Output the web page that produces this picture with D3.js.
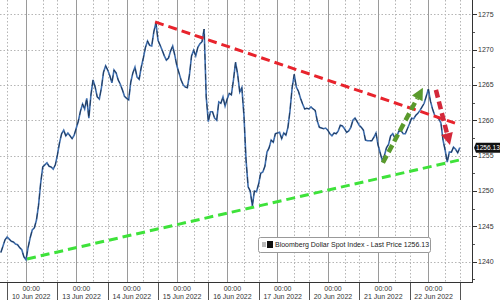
<!DOCTYPE html>
<html>
<head>
<meta charset="utf-8">
<title>dollar spot</title>
<style>
  body { margin: 0; background: #fff; }
  text { font-family: "Liberation Sans", Arial, sans-serif; }
</style>
</head>
<body>
<script src="https://cdn.jsdelivr.net/npm/d3@7"></script>
<script>
// hourly prices, first value at 9 Jun 12:00 (hours counted on trading days only)
var firstHour = 12;
var prices = [
  1241.3, 1242.2, 1243.1, 1243.5, 1243.2, 1242.9, 1242.8, 1242.5, 1242.4, 1242.0, 1241.7, 1240.7,
  1240.3, 1242.0, 1243.4, 1244.5, 1244.8, 1245.9, 1248.0, 1251.1, 1253.4, 1253.7, 1254.0, 1253.5,
  1253.4, 1253.1, 1253.7, 1255.1, 1256.8, 1258.1, 1258.6, 1257.8, 1258.2, 1257.8, 1257.4, 1257.9,
  1258.9, 1259.9, 1261.3, 1262.3, 1261.6, 1263.1, 1260.3, 1263.6, 1265.7, 1264.7, 1263.3, 1263.0,
  1264.6, 1266.8, 1267.7, 1267.1, 1266.3, 1265.3, 1267.1, 1266.7, 1265.7, 1265.1, 1264.3, 1263.4,
  1263.1, 1262.9, 1265.4, 1266.7, 1267.5, 1266.1, 1265.8, 1267.5, 1268.8, 1270.3, 1271.2, 1270.6,
  1270.5, 1272.5, 1273.8, 1271.3, 1270.6, 1269.9, 1269.1, 1268.5, 1268.8, 1269.8, 1270.5, 1269.2,
  1267.7, 1266.7, 1265.7, 1265.0, 1264.7, 1264.6, 1266.4, 1269.1, 1269.9, 1269.1, 1270.3, 1270.8,
  1271.1, 1272.9, 1263.3, 1259.8, 1261.2, 1261.2, 1260.3, 1260.0, 1262.6, 1262.4, 1263.3, 1262.0,
  1263.0, 1263.8, 1263.6, 1265.7, 1268.2, 1266.5, 1264.0, 1264.6, 1260.7, 1254.4, 1250.6, 1250.0,
  1247.9, 1250.0, 1249.9, 1251.0, 1252.5, 1252.7, 1253.5, 1255.5, 1256.1, 1257.2, 1256.9, 1258.1,
  1258.2, 1258.3, 1257.4, 1258.2, 1257.9, 1259.0, 1261.4, 1264.6, 1266.5, 1264.7, 1264.1, 1263.1,
  1262.3, 1261.6, 1261.7, 1261.6, 1261.9, 1261.6, 1261.4, 1259.9, 1259.0, 1258.9, 1258.8, 1258.9,
  1258.6, 1258.1, 1257.8, 1258.2, 1258.1, 1258.5, 1259.3, 1259.2, 1258.8, 1258.3, 1258.5, 1259.0,
  1260.0, 1260.3, 1259.8, 1259.3, 1259.0, 1258.6, 1257.2, 1257.1, 1257.1, 1257.1, 1257.6, 1258.2,
  1256.5, 1255.4, 1254.3, 1255.0, 1256.1, 1256.6, 1257.8, 1258.1, 1257.5, 1257.8, 1258.5, 1258.5,
  1258.1, 1258.1, 1258.8, 1259.5, 1260.3, 1260.2, 1260.7, 1261.0, 1261.4, 1261.9, 1262.4, 1263.4,
  1264.4, 1262.7, 1261.6, 1260.7, 1260.5, 1260.2, 1259.6, 1257.2, 1255.8, 1254.1, 1255.5, 1255.5,
  1256.2, 1255.9, 1255.4, 1256.13
];
var lastPrice = 1256.13;
var seriesName = "Bloomberg Dollar Spot Index - Last Price";

// day starts (trading hours) and their labels
var dayHours = [24, 48, 72, 96, 120, 144, 168, 192, 216];
var dayLabels = ["10 Jun 2022", "13 Jun 2022", "14 Jun 2022", "15 Jun 2022", "16 Jun 2022",
                 "17 Jun 2022", "20 Jun 2022", "21 Jun 2022", "22 Jun 2022"];
var minorHours = [8, 15];
var yTicks = [1240, 1245, 1250, 1255, 1260, 1265, 1270, 1275];
var yMinorTicks = [1237.5, 1242.5, 1247.5, 1252.5, 1257.5, 1262.5, 1267.5, 1272.5];

// drawn annotations [hour, price]
var redTrend = [[85.6, 1273.9], [228.7, 1259.6]];
var greenTrend = [[24.5, 1240.4], [232.5, 1254.5]];
var greenArrow = [[194.3, 1254.0], [213.4, 1264.6]];
var redArrow = [[219.6, 1264.3], [226.3, 1256.5]];

var width = 500, height = 300;
var plotRight = 473, plotBottom = 283;

var svg = d3.select("body").append("svg")
    .attr("width", width).attr("height", height);

var x = d3.scaleLinear().domain([11.6, 237.3]).range([0, plotRight]);
var y = d3.scaleLinear().domain([1237, 1277]).range([plotBottom, 0]);

// grid
var grid = svg.append("g");
grid.selectAll(".hgrid").data(yTicks).enter().append("line")
    .attr("x1", 0).attr("x2", plotRight)
    .attr("y1", function (d) { return Math.round(y(d)) + 0.5; })
    .attr("y2", function (d) { return Math.round(y(d)) + 0.5; })
    .attr("stroke", "#b5b5b5").attr("stroke-dasharray", "1.5,2");

var minorLines = [];
[0].concat(dayHours).forEach(function (h) {
    minorHours.forEach(function (m) { minorLines.push(h + m); });
});
grid.selectAll(".vminor").data(minorLines.filter(function (h) { return x(h) > 0 && x(h) < plotRight; }))
    .enter().append("line")
    .attr("x1", function (d) { return Math.round(x(d)) + 0.5; })
    .attr("x2", function (d) { return Math.round(x(d)) + 0.5; })
    .attr("y1", 0).attr("y2", plotBottom)
    .attr("stroke", "#b5b5b5").attr("stroke-dasharray", "1.5,2");

grid.selectAll(".vday").data(dayHours).enter().append("line")
    .attr("x1", function (d) { return Math.round(x(d)) + 0.5; })
    .attr("x2", function (d) { return Math.round(x(d)) + 0.5; })
    .attr("y1", 0).attr("y2", plotBottom)
    .attr("stroke", "#9a9a9a").attr("stroke-width", 1);

// trend lines
var tl = d3.line().x(function (d) { return x(d[0]); }).y(function (d) { return y(d[1]); });
svg.append("path").datum(greenTrend).attr("d", tl)
    .attr("fill", "none").attr("stroke", "#3ee23a").attr("stroke-width", 3)
    .attr("stroke-dasharray", "9,5");

// price line
var line = d3.line()
    .x(function (d, i) { return x(firstHour + i); })
    .y(function (d) { return y(d); });
svg.append("path").datum(prices).attr("d", line)
    .attr("fill", "none").attr("stroke", "#3d6dae").attr("stroke-width", 1.6);
svg.append("path").datum(prices).attr("d", line)
    .attr("fill", "none").attr("stroke", "#101820").attr("stroke-width", 0.6)
    .attr("stroke-dasharray", "6,4");

svg.append("path").datum(redTrend).attr("d", tl)
    .attr("fill", "none").attr("stroke", "#e8232c").attr("stroke-width", 3)
    .attr("stroke-dasharray", "9,5");

function arrow(pts, color) {
    var x0 = x(pts[0][0]), y0 = y(pts[0][1]), x1 = x(pts[1][0]), y1 = y(pts[1][1]);
    var dx = x1 - x0, dy = y1 - y0, len = Math.sqrt(dx * dx + dy * dy);
    var ux = dx / len, uy = dy / len, headL = 12, headW = 6;
    var bx = x1 - ux * headL, by = y1 - uy * headL;
    svg.append("line").attr("x1", x0).attr("y1", y0).attr("x2", bx).attr("y2", by)
        .attr("stroke", color).attr("stroke-width", 4.5).attr("stroke-dasharray", "8,4");
    svg.append("path")
        .attr("d", "M" + x1 + "," + y1 + "L" + (bx - uy * headW) + "," + (by + ux * headW) +
             "L" + (bx + uy * headW) + "," + (by - ux * headW) + "Z")
        .attr("fill", color);
}
arrow(greenArrow, "#5a9a2c");
arrow(redArrow, "#d3283a");

// right axis
var yAxis = svg.append("g");
yAxis.append("line").attr("x1", plotRight - 0.5).attr("x2", plotRight - 0.5)
    .attr("y1", 0).attr("y2", plotBottom).attr("stroke", "#333");
yAxis.selectAll(".tk").data(yTicks).enter().append("line")
    .attr("x1", plotRight).attr("x2", plotRight + 4)
    .attr("y1", function (d) { return Math.round(y(d)) + 0.5; })
    .attr("y2", function (d) { return Math.round(y(d)) + 0.5; })
    .attr("stroke", "#333");
yAxis.selectAll(".mtk").data(yMinorTicks).enter().append("line")
    .attr("x1", plotRight).attr("x2", plotRight + 2)
    .attr("y1", function (d) { return Math.round(y(d)) + 0.5; })
    .attr("y2", function (d) { return Math.round(y(d)) + 0.5; })
    .attr("stroke", "#555");
yAxis.selectAll(".lb").data(yTicks).enter().append("text")
    .attr("x", plotRight + 5).attr("y", function (d) { return y(d); })
    .attr("dy", "0.35em").attr("font-size", "7px").attr("fill", "#333")
    .text(function (d) { return d; });

// last price tag
var ly = y(lastPrice);
svg.append("path")
    .attr("d", "M" + (plotRight + 1) + "," + ly + "L" + (plotRight + 3) + "," + (ly - 5) +
         "H" + width + "V" + (ly + 5) + "H" + (plotRight + 3) + "Z")
    .attr("fill", "#111");
svg.append("text").attr("x", plotRight + 3).attr("y", ly).attr("dy", "0.35em")
    .attr("font-size", "6.6px").attr("fill", "#fff").text(lastPrice.toFixed(2));

// bottom axis
var xAxis = svg.append("g");
xAxis.append("line").attr("x1", 0).attr("x2", plotRight)
    .attr("y1", plotBottom - 0.5).attr("y2", plotBottom - 0.5).attr("stroke", "#333");
var seps = [15].concat(dayHours.map(function (h) { return h + 15; }));
xAxis.selectAll(".sep").data(seps).enter().append("line")
    .attr("x1", function (d) { return Math.round(x(d)) + 0.5; })
    .attr("x2", function (d) { return Math.round(x(d)) + 0.5; })
    .attr("y1", plotBottom).attr("y2", height)
    .attr("stroke", "#555");
xAxis.selectAll(".t1").data(dayHours).enter().append("text")
    .attr("x", function (d) { return x(d + 2.5); }).attr("y", 291)
    .attr("text-anchor", "middle").attr("font-size", "7px").attr("fill", "#333")
    .text("00:00");
xAxis.selectAll(".t2").data(dayLabels).enter().append("text")
    .attr("x", function (d, i) { return x(dayHours[i] + 2.5); }).attr("y", 298.5)
    .attr("text-anchor", "middle").attr("font-size", "7px").attr("fill", "#333")
    .text(function (d) { return d; });

// legend
var lg = svg.append("g").attr("transform", "translate(258,237)");
lg.append("rect").attr("x", 0.5).attr("y", 0.5).attr("width", 172).attr("height", 15).attr("rx", 2)
    .attr("fill", "#fff").attr("stroke", "#999");
lg.append("rect").attr("x", 4).attr("y", 5).attr("width", 4).attr("height", 5).attr("fill", "#bbb");
lg.append("rect").attr("x", 9).attr("y", 4).attr("width", 6).attr("height", 7).attr("fill", "#111");
lg.append("text").attr("x", 17).attr("y", 8).attr("dy", "0.35em")
    .attr("font-size", "7px").attr("fill", "#222")
    .text(seriesName + " " + lastPrice.toFixed(2));
</script>
</body>
</html>
